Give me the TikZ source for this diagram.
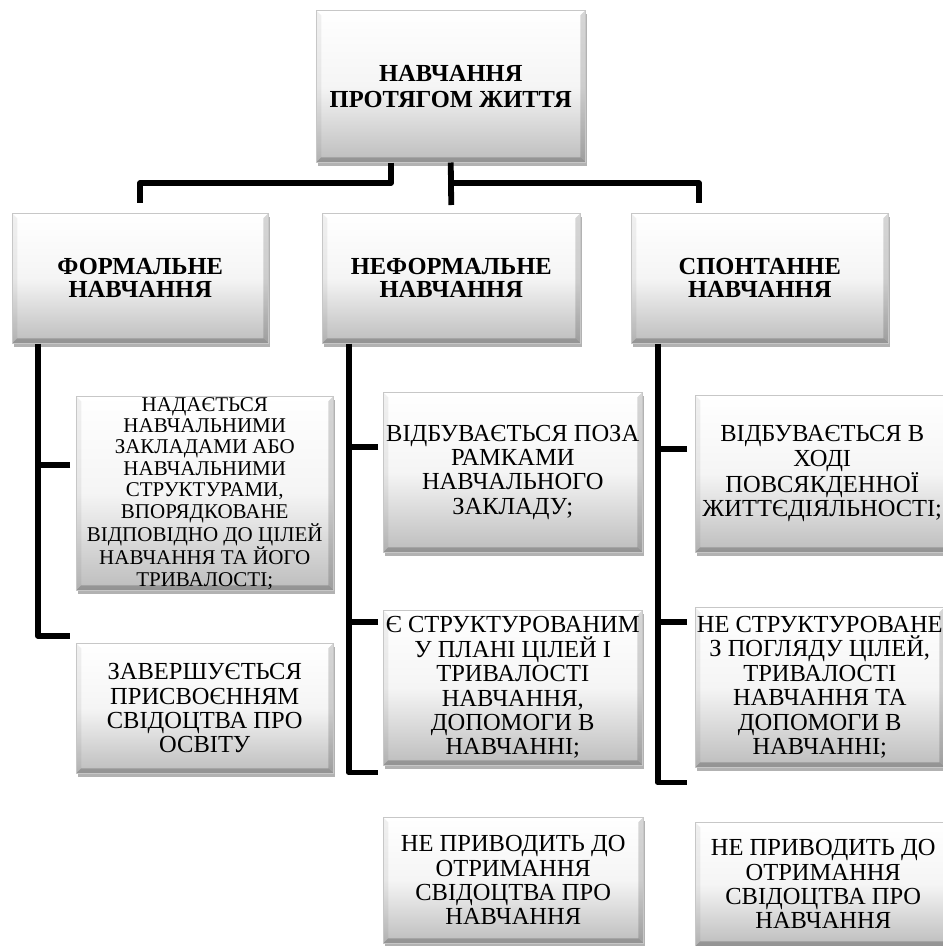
\documentclass[tikz,border=0pt]{standalone}
\usepackage{fontspec}
\setmainfont{Liberation Serif}
\usetikzlibrary{shadows}
\tikzset{
  bevel/.style={path picture={
    \fill[black,opacity=.16] (path picture bounding box.north east) -- (path picture bounding box.south east) -- ([shift={(-5pt,5pt)}]path picture bounding box.south east) -- ([shift={(-5pt,-5pt)}]path picture bounding box.north east) -- cycle;
    \fill[black,opacity=.22] (path picture bounding box.south west) -- (path picture bounding box.south east) -- ([shift={(-5pt,5pt)}]path picture bounding box.south east) -- ([shift={(5pt,5pt)}]path picture bounding box.south west) -- cycle;
    \fill[black,opacity=.06] (path picture bounding box.north west) -- (path picture bounding box.south west) -- ([shift={(5pt,5pt)}]path picture bounding box.south west) -- ([shift={(5pt,-5pt)}]path picture bounding box.north west) -- cycle;
  }},
  box/.style={rectangle, inner sep=1pt, align=center, anchor=north west,
    top color=white, bottom color=black!26, middle color=white!96!black,
    draw=black!22, line width=0.5pt,
    drop shadow={shadow xshift=1.5pt, shadow yshift=-3.5pt, opacity=0.3, fill=black},
    bevel,
    font=\fontsize{24.5}{24.4}\selectfont},
  head/.style={box, font=\bfseries\fontsize{24.5}{23.3}\selectfont},
  conn/.style={draw=black, line width=5.8pt, line join=round, line cap=butt}
}
\begin{document}
\begin{tikzpicture}[x=1pt,y=-1pt]
\fill[white] (0,0) rectangle (943,946);
\useasboundingbox (0,0) rectangle (943,946);

\node[head, font=\bfseries\fontsize{24.5}{26}\selectfont, minimum width=269pt, minimum height=152pt] (top) at (316,10) {НАВЧАННЯ\\ПРОТЯГОМ ЖИТТЯ};
\node[head, minimum width=256pt, minimum height=130pt] (formal) at (12,213) {ФОРМАЛЬНЕ\\НАВЧАННЯ};
\node[head, minimum width=258pt, minimum height=130pt] (nonformal) at (322,213) {НЕФОРМАЛЬНЕ\\НАВЧАННЯ};
\node[head, minimum width=257pt, minimum height=130pt] (spont) at (631,213) {СПОНТАННЕ\\НАВЧАННЯ};

\node[box, font=\fontsize{21}{21.4}\selectfont, minimum width=257pt, minimum height=194pt] (f1) at (76,396) {НАДАЄТЬСЯ\\НАВЧАЛЬНИМИ\\ЗАКЛАДАМИ АБО\\НАВЧАЛЬНИМИ\\СТРУКТУРАМИ,\\ВПОРЯДКОВАНЕ\\ВІДПОВІДНО ДО ЦІЛЕЙ\\НАВЧАННЯ ТА ЙОГО\\ТРИВАЛОСТІ;};
\node[box, minimum width=257pt, minimum height=130pt] (f2) at (76,643) {ЗАВЕРШУЄТЬСЯ\\ПРИСВОЄННЯМ\\СВІДОЦТВА ПРО\\ОСВІТУ};

\node[box, minimum width=259pt, minimum height=160pt] (n1) at (383,392) {ВІДБУВАЄТЬСЯ ПОЗА\\РАМКАМИ\\НАВЧАЛЬНОГО\\ЗАКЛАДУ;};
\node[box, minimum width=259pt, minimum height=155pt] (n2) at (383,610) {Є СТРУКТУРОВАНИМ\\У ПЛАНІ ЦІЛЕЙ І\\ТРИВАЛОСТІ\\НАВЧАННЯ,\\ДОПОМОГИ В\\НАВЧАННІ;};
\node[box, minimum width=260pt, minimum height=126pt] (n3) at (383,817) {НЕ ПРИВОДИТЬ ДО\\ОТРИМАННЯ\\СВІДОЦТВА ПРО\\НАВЧАННЯ};

\node[box, minimum width=254pt, minimum height=157pt] (s1) at (695,395) {ВІДБУВАЄТЬСЯ В\\ХОДІ\\ПОВСЯКДЕННОЇ\\ЖИТТЄДІЯЛЬНОСТІ;};
\node[box, minimum width=249pt, minimum height=160pt] (s2) at (695,607) {НЕ СТРУКТУРОВАНЕ\\З ПОГЛЯДУ ЦІЛЕЙ,\\ТРИВАЛОСТІ\\НАВЧАННЯ ТА\\ДОПОМОГИ В\\НАВЧАННІ;};
\node[box, minimum width=256pt, minimum height=124pt] (s3) at (695,822) {НЕ ПРИВОДИТЬ ДО\\ОТРИМАННЯ\\СВІДОЦТВА ПРО\\НАВЧАННЯ};

% top connectors
\coordinate (bus) at (0,183);
\coordinate (tl) at ([xshift=-60pt]top.south);
\draw[conn] (tl) -- (tl |- bus) -| ([yshift=10pt]formal.north);
\draw[conn] (top.south) -- ([yshift=8pt]nonformal.north);
\draw[conn] (top.south |- bus) -| ([xshift=-61pt,yshift=10pt]spont.north);

% formal column
\coordinate (fv) at ([xshift=26pt]formal.south west);
\coordinate (f1b) at ([xshift=-6pt,yshift=28pt]f1.west);
\coordinate (f2b) at ([xshift=-6pt,yshift=7pt]f2.north west);
\draw[conn] (fv) |- (f2b);
\draw[conn] (f1b) -- (fv |- f1b);

% nonformal column
\coordinate (nv) at ([xshift=27pt]nonformal.south west);
\coordinate (n1b) at ([xshift=-5pt,yshift=25pt]n1.west);
\coordinate (n2b) at ([xshift=-5pt,yshift=-12pt]n2.north west);
\coordinate (n3b) at ([xshift=-5pt,yshift=-7pt]n2.south west);
\draw[conn] (nv) |- (n3b);
\draw[conn] (n1b) -- (nv |- n1b);
\draw[conn] (n2b) -- (nv |- n2b);

% spontaneous column
\coordinate (sv) at ([xshift=27pt]spont.south west);
\coordinate (s1b) at ([xshift=-8pt,yshift=25pt]s1.west);
\coordinate (s2b) at ([xshift=-8pt,yshift=-15pt]s2.north west);
\coordinate (s3b) at ([xshift=-8pt,yshift=-15pt]s2.south west);
\draw[conn] (sv) |- (s3b);
\draw[conn] (s1b) -- (sv |- s1b);
\draw[conn] (s2b) -- (sv |- s2b);
\end{tikzpicture}
\end{document}
